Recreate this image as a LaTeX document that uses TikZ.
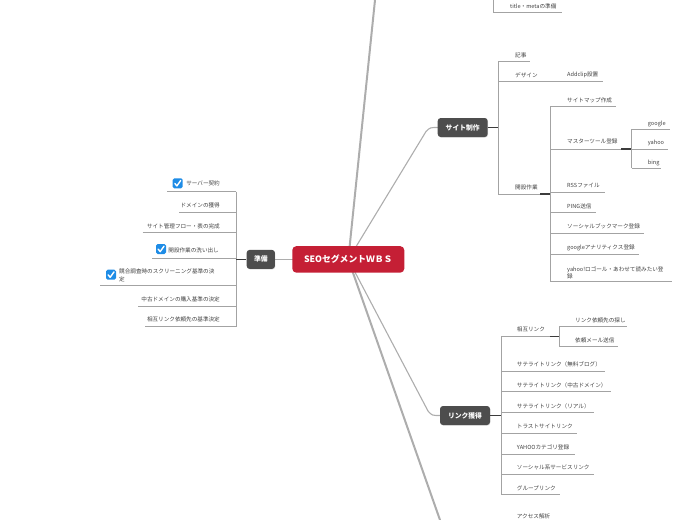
\documentclass[tikz,border=0pt]{standalone}
\usepackage{fontspec}
\setmainfont{Noto Sans CJK JP}
\usetikzlibrary{backgrounds,shadows}
\definecolor{rootred}{HTML}{C51F35}
\definecolor{topicg}{HTML}{4D4D4D}
\definecolor{branchg}{HTML}{ADADAD}
\definecolor{treeg}{HTML}{A3A3A3}
\definecolor{jointg}{HTML}{3C3C3C}
\definecolor{txtc}{HTML}{404040}
\definecolor{chkblue}{HTML}{1E8CE6}
\tikzset{
 root/.style={rectangle, rounded corners=4pt, fill=rootred, text=white, font=\fontsize{8.8}{10}\selectfont\bfseries, minimum width=112pt, minimum height=26.5pt, inner sep=0pt},
 topic/.style={rectangle, rounded corners=3pt, fill=topicg, text=white, font=\fontsize{6.8}{8}\selectfont\bfseries, minimum height=19pt, inner sep=0pt, drop shadow={shadow xshift=0.4pt, shadow yshift=-0.6pt, opacity=0.25}},
 itemE/.style={anchor=east, inner sep=0pt, text=txtc, font=\fontsize{5.6}{7.6}\selectfont},
 itemW/.style={anchor=west, inner sep=0pt, text=txtc, font=\fontsize{5.6}{7.6}\selectfont, align=left},
 branch/.style={draw=branchg, line cap=round},
 tree/.style={draw=treeg, line width=0.7pt},
 joint/.style={draw=jointg, line width=1.3pt},
 checkbox/.pic={\fill[chkblue, rounded corners=1.6pt] (-5,-5) rectangle (5,5); \draw[white, line width=1.4pt, line cap=round, line join=round] (-2.8,0.2) -- (-0.8,2.6) -- (3,-2.8);}
}
\begin{document}
\begin{tikzpicture}[x=1pt,y=-1pt]
\useasboundingbox (0,0) rectangle (697,520);
% main topics
\node[root] (root) at (348.3,259.4) {SEOセグメントＷＢＳ};
\node[topic, minimum width=28.3pt] (prep) at (260.8,259.4) {準備};
\node[topic, minimum width=50pt] (site) at (462.7,127.5) {サイト制作};
\node[topic, minimum width=50pt] (link) at (465,415.5) {リンク獲得};
\coordinate (topend) at (375,0);
\coordinate (botend) at (440,520);
\coordinate (sitebend) at (426,131.5);
\coordinate (linkbend) at (428,411);
\begin{scope}[on background layer]
\draw[branch, line width=2pt] (root.center) -- (topend);
\draw[branch, line width=2pt] (root.center) -- (botend);
\draw[branch, line width=1.1pt] (root.center) -- (sitebend) .. controls (430,127.5) .. (site.west);
\draw[branch, line width=1.1pt] (root.center) -- (linkbend) .. controls (432,415.5) .. (link.west);
\draw[branch, line width=1.1pt] (root.center) -- (prep.east);
\end{scope}
% ---------- left: 準備 ----------
\coordinate (lbar) at (236,259.4);
\draw[tree] (236,191.7) -- (236,326.7);
\draw[joint] (prep.west) -- (lbar);
\pic (cb1) at (177.7,183.3) {checkbox};
\node[itemE] (l1) at (220,183.3) {サーバー契約};
\draw[tree] (167.3,191.7) -- (236,191.7);
\node[itemE] (l2) at (220,205.7) {ドメインの獲得};
\draw[tree] (179.3,212.3) -- (236,212.3);
\node[itemE] (l3) at (220,226) {サイト管理フロー・表の完成};
\draw[tree] (142.7,232.7) -- (236,232.7);
\pic (cb2) at (161,249) {checkbox};
\node[itemE] (l4) at (219,250) {開設作業の洗い出し};
\draw[tree] (152,258.3) -- (236,258.3);
\pic (cb3) at (111,274.7) {checkbox};
\node[itemW] (l5) at (119,275.5) {競合調査時のスクリーニング基準の決\\定};
\draw[tree] (100,285.7) -- (236,285.7);
\node[itemE] (l6) at (220,299) {中古ドメインの購入基準の決定};
\draw[tree] (138.3,306) -- (236,306);
\node[itemE] (l7) at (220,319.3) {相互リンク依頼先の基準決定};
\draw[tree] (145,326.7) -- (236,326.7);
% ---------- top (cut) ----------
\node[itemW] (tm) at (510,6) {title・metaの準備};
\draw[tree] (493.5,0) -- (493.5,12.3) -- (562,12.3);
% ---------- right: サイト制作 ----------
\coordinate (sbar) at (498,127.5);
\draw[joint] (site.east) -- (sbar);
\draw[tree] (498,61.7) -- (498,194);
\node[itemW] (s1) at (515,55) {記事};
\draw[tree] (498,61.7) -- (530,61.7);
\node[itemW] (s2) at (515,75) {デザイン};
\draw[tree] (498,81.7) -- (553,81.7);
\node[itemW] (s21) at (567,75) {Addclip設置};
\draw[tree] (553,81.7) -- (603,81.7);
\node[itemW] (s3) at (515,187.3) {開設作業};
\draw[tree] (498,194) -- (540,194);
\draw[joint] (540,194) -- (550,194);
\draw[tree] (550,106.7) -- (550,281.7);
\node[itemW] (k1) at (567,100) {サイトマップ作成};
\draw[tree] (550,106.7) -- (616,106.7);
\node[itemW] (k2) at (567,141.7) {マスターツール登録};
\draw[tree] (550,149) -- (621,149);
\draw[joint] (621,149) -- (631.7,149);
\draw[tree] (631.7,129.3) -- (631.7,168.3);
\node[itemW] (m1) at (647.7,124) {google};
\draw[tree] (631.7,129.3) -- (670,129.3);
\node[itemW] (m2) at (647.7,143.3) {yahoo};
\draw[tree] (631.7,149) -- (668,149);
\node[itemW] (m3) at (647.7,163.3) {bing};
\draw[tree] (631.7,168.3) -- (661,168.3);
\node[itemW] (k3) at (567,185.7) {RSSファイル};
\draw[tree] (550,192.7) -- (605,192.7);
\node[itemW] (k4) at (567,206) {PING送信};
\draw[tree] (550,212.7) -- (596,212.7);
\node[itemW] (k5) at (567,226.7) {ソーシャルブックマーク登録};
\draw[tree] (550,233.3) -- (644,233.3);
\node[itemW] (k6) at (567,248) {googleアナリティクス登録};
\draw[tree] (550,254.3) -- (639,254.3);
\node[itemW] (k7) at (567,273) {yahoo!ロゴール・あわせて読みたい登\\録};
\draw[tree] (550,281.7) -- (672,281.7);
% ---------- right: リンク獲得 ----------
\coordinate (kbar) at (501,415.5);
\draw[joint] (link.east) -- (kbar);
\draw[tree] (501,336.7) -- (501,494.3);
\node[itemW] (r1) at (516.7,329.3) {相互リンク};
\draw[tree] (501,336.7) -- (550,336.7);
\draw[joint] (550,336.7) -- (559,336.7);
\draw[tree] (559,326.7) -- (559,346.7);
\node[itemW] (r11) at (575,320) {リンク依頼先の探し};
\draw[tree] (559,326.7) -- (627.3,326.7);
\node[itemW] (r12) at (575,340.5) {依頼メール送信};
\draw[tree] (559,346.7) -- (618,346.7);
\node[itemW] (r2) at (516.7,364.8) {サテライトリンク（無料ブログ）};
\draw[tree] (501,371.7) -- (605,371.7);
\node[itemW] (r3) at (516.7,385.3) {サテライトリンク（中古ドメイン）};
\draw[tree] (501,391.7) -- (610.7,391.7);
\node[itemW] (r4) at (516.7,406.5) {サテライトリンク（リアル）};
\draw[tree] (501,412.7) -- (594,412.7);
\node[itemW] (r5) at (516.7,426.7) {トラストサイトリンク};
\draw[tree] (501,433.3) -- (577.3,433.3);
\node[itemW] (r6) at (516.7,447.3) {YAHOOカテゴリ登録};
\draw[tree] (501,454) -- (575,454);
\node[itemW] (r7) at (516.7,467.3) {ソーシャル系サービスリンク};
\draw[tree] (501,474) -- (594,474);
\node[itemW] (r8) at (516.7,488.3) {グループリンク};
\draw[tree] (501,494.3) -- (560,494.3);
\node[itemW] (acc) at (516.7,516.7) {アクセス解析};
\end{tikzpicture}
\end{document}
